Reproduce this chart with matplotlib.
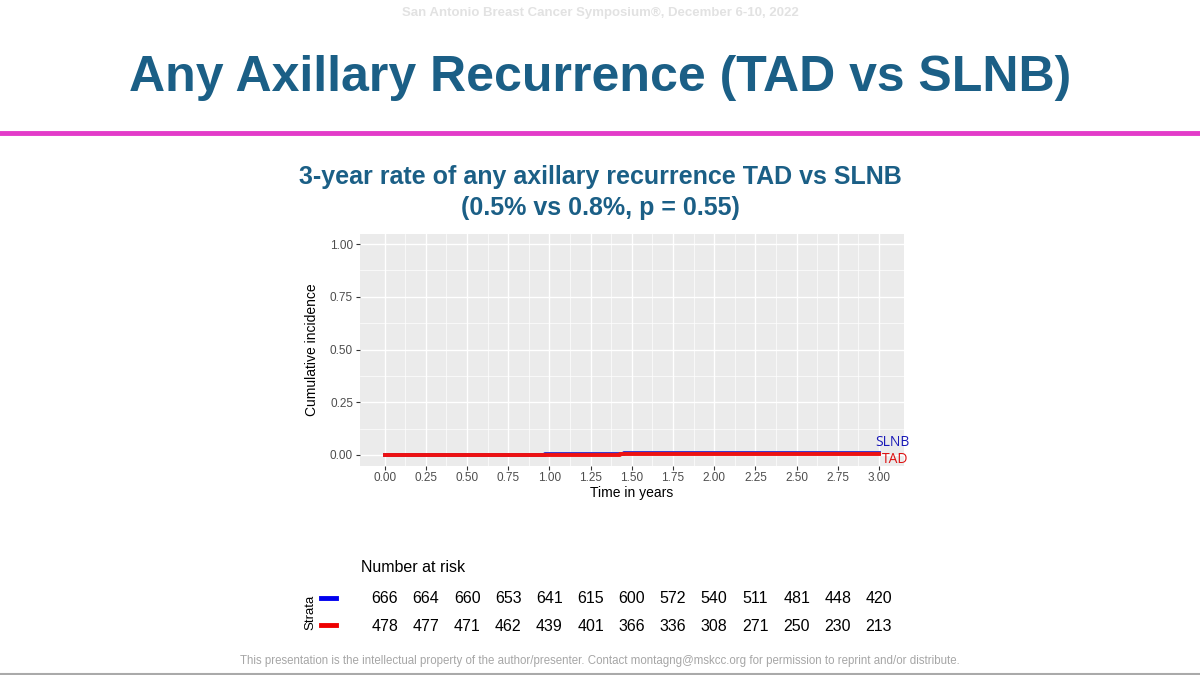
import matplotlib
matplotlib.use("Agg")
import matplotlib.pyplot as plt
from matplotlib.lines import Line2D

plt.rcParams['font.family'] = ['Liberation Sans', 'DejaVu Sans']

# ---- data ----
x_ticks = [0.00, 0.25, 0.50, 0.75, 1.00, 1.25, 1.50, 1.75, 2.00, 2.25, 2.50, 2.75, 3.00]
y_ticks = [0.00, 0.25, 0.50, 0.75, 1.00]
slnb_t = [0.0, 0.97, 1.07, 1.45, 3.0]
slnb_ci = [0.0, 0.003, 0.005, 0.008, 0.008]
tad_t = [0.0, 1.03, 1.43, 3.0]
tad_ci = [0.0, 0.002, 0.005, 0.005]
risk_slnb = [666, 664, 660, 653, 641, 615, 600, 572, 540, 511, 481, 448, 420]
risk_tad = [478, 477, 471, 462, 439, 401, 366, 336, 308, 271, 250, 230, 213]

W, H = 1200, 675
fig = plt.figure(figsize=(12, 6.75), dpi=100)
fig.patch.set_facecolor('white')

def fx(px):
    return px / W
def fy(py):
    return 1 - py / H

# header text
fig.text(0.5, fy(13), "San Antonio Breast Cancer Symposium®, December 6-10, 2022",
         ha='center', va='center', fontsize=9.5, color='#e2e2e2', fontweight='bold')
fig.text(0.5, fy(78), "Any Axillary Recurrence (TAD vs SLNB)", ha='center', va='center',
         fontsize=36, color='#1b5f86', fontweight='bold')
fig.add_artist(Line2D([0, 1], [fy(133), fy(133)], color='#e33bc9', lw=3.5,
                      transform=fig.transFigure))
fig.text(0.5, fy(177), "3-year rate of any axillary recurrence TAD vs SLNB", ha='center',
         va='center', fontsize=18, color='#1b5f86', fontweight='bold')
fig.text(0.5, fy(208), "(0.5% vs 0.8%, p = 0.55)", ha='center',
         va='center', fontsize=18, color='#1b5f86', fontweight='bold')

# main plot
ax = fig.add_axes([fx(360), fy(465.5), fx(903.7 - 360), (465.5 - 233.5) / H])
ax.set_facecolor('#ebebeb')
ax.set_xlim(-0.15, 3.15)
ax.set_ylim(-0.05, 1.05)
ax.set_xticks(x_ticks)
ax.set_xticklabels([f"{v:.2f}" for v in x_ticks])
ax.set_yticks(y_ticks)
ax.set_yticklabels([f"{v:.2f}" for v in y_ticks])
ax.set_xticks([(a + b) / 2 for a, b in zip(x_ticks[:-1], x_ticks[1:])], minor=True)
ax.set_yticks([(a + b) / 2 for a, b in zip(y_ticks[:-1], y_ticks[1:])], minor=True)
ax.grid(which='major', color='white', lw=1.0)
ax.grid(which='minor', color='white', lw=0.5)
ax.set_axisbelow(True)
for s in ax.spines.values():
    s.set_visible(False)
ax.tick_params(which='major', length=3, color='#333333', labelsize=8.5, labelcolor='#4d4d4d', pad=2)
ax.tick_params(which='minor', length=0)
ax.set_xlabel("Time in years", fontsize=10, color='black', labelpad=1)
ax.set_ylabel("Cumulative incidence", fontsize=10, color='black', labelpad=8)

ax.step(slnb_t, slnb_ci, where='post', color='#3333cc', lw=2.8)
ax.step(tad_t, tad_ci, where='post', color='#ee1111', lw=2.8)
ax.text(2.98, 0.058, "SLNB", color='#1a1ab8', fontsize=10, ha='left', va='center',
        family=['Open Sans', 'DejaVu Sans'], clip_on=False)
ax.text(3.02, -0.022, "TAD", color='#dd1111', fontsize=10, ha='left', va='center',
        family=['Open Sans', 'DejaVu Sans'], clip_on=False)

# risk table
rax = fig.add_axes([fx(360), fy(640), fx(903.7 - 360), (640 - 585) / H])
rax.set_xlim(-0.15, 3.15)
rax.set_ylim(-0.5, 1.5)
rax.axis('off')
for t, a, b in zip(x_ticks, risk_slnb, risk_tad):
    rax.text(t, 1, str(a), ha='center', va='center', fontsize=11.5, color='black')
    rax.text(t, 0, str(b), ha='center', va='center', fontsize=11.5, color='black')
fig.text(fx(361), fy(567), "Number at risk", ha='left', va='center', fontsize=11.5, color='black')
fig.text(fx(310), fy(612), "Strata", ha='center', va='center', fontsize=9.5, rotation=90, color='black')
fig.add_artist(Line2D([fx(321), fx(336)], [fy(598), fy(598)], color='#0000ee', lw=3.5,
                      transform=fig.transFigure))
fig.add_artist(Line2D([fx(321), fx(336)], [fy(625), fy(625)], color='#ee0000', lw=3.5,
                      transform=fig.transFigure))

# footer
fig.text(0.5, fy(661), "This presentation is the intellectual property of the author/presenter. "
         "Contact montagng@mskcc.org for permission to reprint and/or distribute.",
         ha='center', va='center', fontsize=8.3, color='#a6a6a6')
fig.add_artist(Line2D([0, 1], [fy(673.5), fy(673.5)], color='#aaaaaa', lw=1.5,
                      transform=fig.transFigure))

fig.savefig("out.png", dpi=100)
